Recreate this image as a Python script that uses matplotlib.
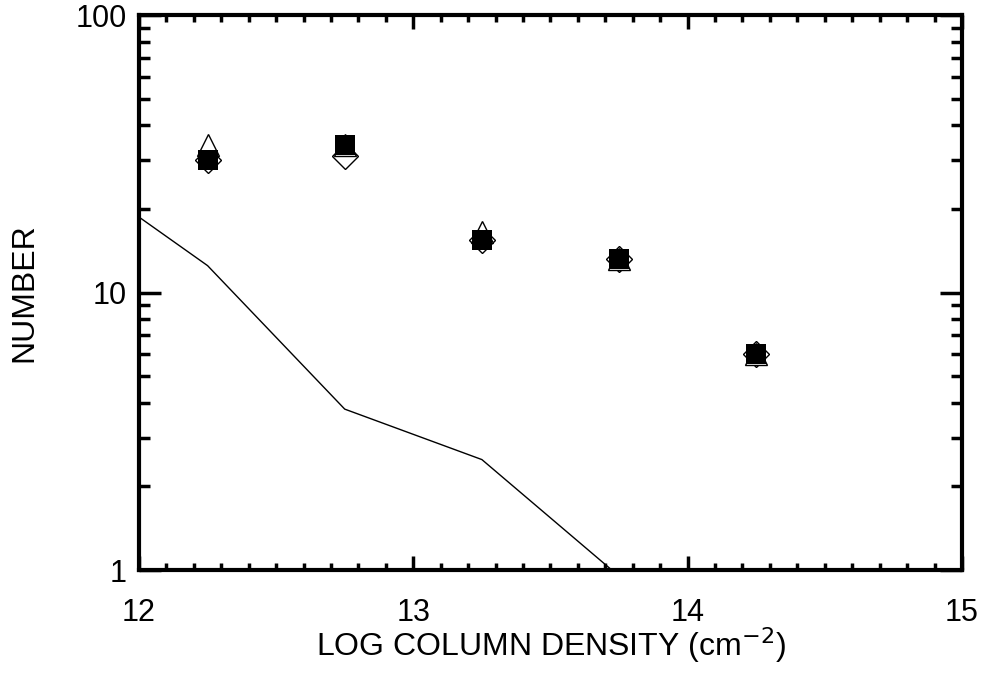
import matplotlib
matplotlib.use("Agg")
import matplotlib.pyplot as plt
from matplotlib.ticker import FixedLocator, NullFormatter, MultipleLocator

# Histogram bin centres and counts for the three samples
bin_centres = [12.25, 12.75, 13.25, 13.75, 14.25]
counts_triangle = [34, 34, 16.5, 13.2, 6.0]
counts_diamond = [30, 31, 15.5, 13.2, 6.0]
counts_square = [30, 34, 15.5, 13.2, 6.0]

# Model curve (clipped at the plot edges)
model_x = [11.75, 12.25, 12.75, 13.25, 13.75, 14.25]
model_y = [28, 12.5, 3.8, 2.5, 0.95, 0.4]

xticks = [12, 13, 14, 15]
yticks = [1, 10, 100]

plt.rcParams["font.family"] = ["Liberation Sans", "DejaVu Sans"]

fig = plt.figure(figsize=(9.85, 6.74), dpi=100)
ax = fig.add_axes([0.1411, 0.1543, 0.8355, 0.8234])

ax.plot(model_x, model_y, color="black", linewidth=1.0)
ax.plot(bin_centres, counts_diamond, linestyle="none", marker="D", markersize=13,
        markerfacecolor="white", markeredgecolor="black", markeredgewidth=1.0)
ax.plot(bin_centres, counts_triangle, linestyle="none", marker="^", markersize=16,
        markerfacecolor="white", markeredgecolor="black", markeredgewidth=1.0)
ax.plot(bin_centres, counts_square, linestyle="none", marker="s", markersize=14,
        markerfacecolor="black", markeredgecolor="black", markeredgewidth=0)

ax.set_xlim(12, 15)
ax.set_yscale("log")
ax.set_ylim(1, 100)

ax.xaxis.set_major_locator(FixedLocator(xticks))
ax.xaxis.set_minor_locator(MultipleLocator(0.1))
ax.set_xticklabels([str(t) for t in xticks])
ax.yaxis.set_major_locator(FixedLocator(yticks))
ax.yaxis.set_minor_locator(FixedLocator([m * d for d in (1, 10) for m in range(2, 10)]))
ax.yaxis.set_minor_formatter(NullFormatter())
ax.set_yticklabels([str(t) for t in yticks])

for side in ax.spines.values():
    side.set_linewidth(3)

ax.tick_params(axis="both", which="both", direction="in", top=True, right=True,
               width=2.5, labelsize=22, colors="black")
ax.tick_params(axis="x", which="major", length=10, pad=20)
ax.tick_params(axis="x", which="minor", length=5)
ax.tick_params(axis="y", which="major", length=16, pad=9)
ax.tick_params(axis="y", which="minor", length=8)

ax.set_xlabel("LOG COLUMN DENSITY (cm$^{-2}$)", fontsize=23, labelpad=-2)
ax.set_ylabel("NUMBER", fontsize=23, labelpad=26)

fig.savefig("out.png", dpi=100)
